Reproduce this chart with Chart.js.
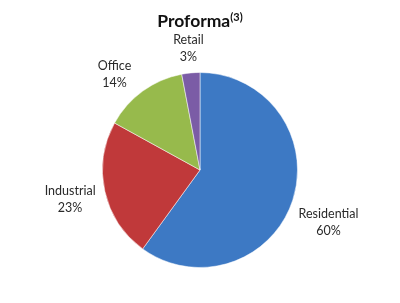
<!DOCTYPE html>
<html>
  <head>
    <meta charset="UTF-8" />
    <title>Proforma</title>
    <style>
      * {
        margin: 0;
        padding: 0;
        box-sizing: border-box;
      }

      body {
        background-color: #fff;
        width: 400px;
        height: 303px;
        overflow: hidden;
        font-family: Lato, sans-serif;
      }

      #wrap {
        position: relative;
        width: 400px;
        height: 303px;
      }

      #title {
        position: absolute;
        top: 10px;
        left: 0;
        width: 400px;
        text-align: center;
        font-weight: bold;
        font-size: 17.5px;
        color: #111;
      }

      #title sup {
        font-size: 11px;
        vertical-align: 6px;
      }
    </style>
  </head>
  <body>
    <div id="wrap">
      <canvas id="pieChart" width="400" height="303"></canvas>
      <div id="title">Proforma<sup>(3)</sup></div>
    </div>

    <script src="https://cdn.jsdelivr.net/npm/chart.js"></script>
    <script>
      const categories = ["Residential", "Industrial", "Office", "Retail"];
      const shares = [60, 23, 14, 3];
      const colors = ["#3D79C4", "#C0393A", "#97BA4C", "#7B5CA6"];

      // labels sit outside the pie, just clear of the edge
      const outsideLabels = {
        id: "outsideLabels",
        afterDatasetsDraw(chart) {
          const ctx = chart.ctx;
          const arcs = chart.getDatasetMeta(0).data;
          ctx.save();
          ctx.font = "12.5px Lato, sans-serif";
          ctx.fillStyle = "#2a2a2a";
          ctx.textAlign = "center";
          ctx.textBaseline = "middle";
          arcs.forEach((arc, i) => {
            const lines = [categories[i], shares[i] + "%"];
            const w = Math.max(...lines.map((t) => ctx.measureText(t).width));
            const h = 34;
            // nudge the big slice's label a little lower, like excel does
            const mid = (arc.startAngle + arc.endAngle) / 2 + (i === 0 ? 0.07 : 0) - (i === 2 ? 0.1 : 0);
            const c = Math.cos(mid);
            const s = Math.sin(mid);
            const d = arc.outerRadius + 7 + Math.abs(c) * w / 2 + Math.abs(s) * h / 2;
            const x = arc.x + c * d;
            const y = arc.y + s * d;
            ctx.fillText(lines[0], x, y - 8);
            ctx.fillText(lines[1], x, y + 9);
          });
          ctx.restore();
        },
      };

      new Chart(document.getElementById("pieChart"), {
        type: "pie",
        data: {
          labels: categories,
          datasets: [
            {
              data: shares,
              backgroundColor: colors,
              borderColor: "rgba(255,255,255,0.5)",
              borderWidth: 1,
            },
          ],
        },
        options: {
          responsive: false,
          animation: false,
          layout: {
            padding: { top: 72, bottom: 35, left: 0, right: 0 },
          },
          plugins: {
            legend: { display: false },
            tooltip: { enabled: false },
          },
        },
        plugins: [outsideLabels],
      });
    </script>
  </body>
</html>
